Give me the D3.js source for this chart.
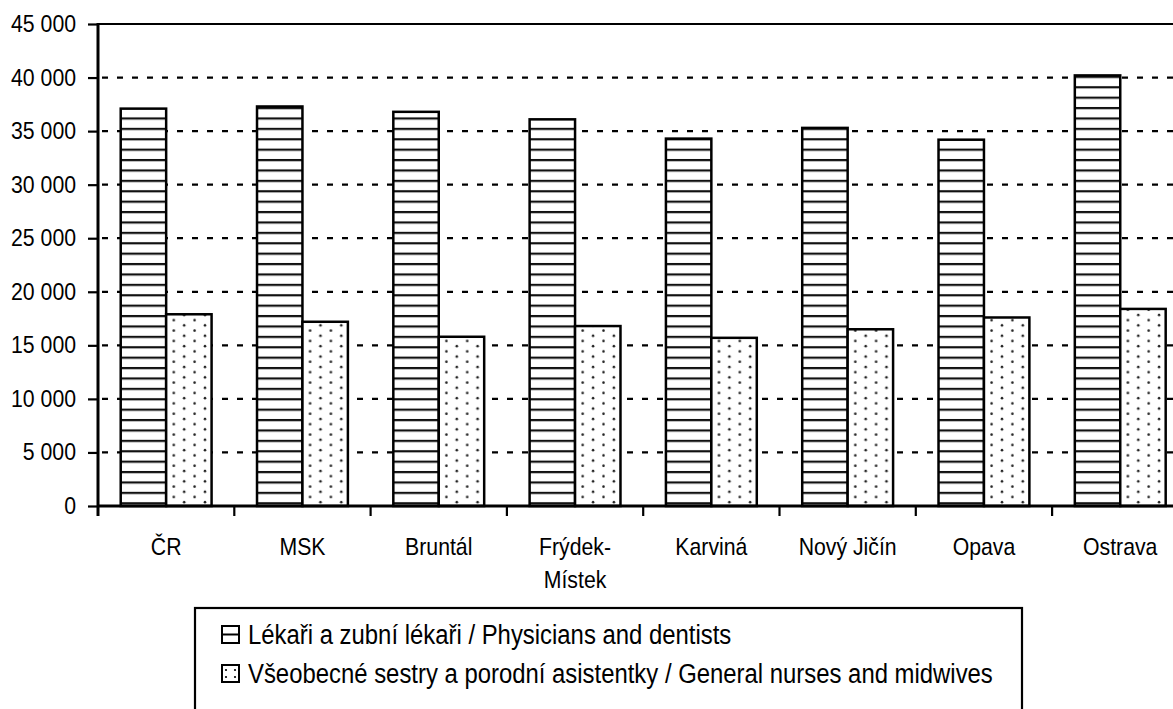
<!DOCTYPE html>
<html>
<head>
<meta charset="utf-8">
<script src="https://cdn.jsdelivr.net/npm/d3@7"></script>
<style>
    body { margin: 0; background: #fff; }
    svg { display: block; font-family: "Liberation Sans", Arial, sans-serif; }
</style>
</head>
<body>
<div id="chart"></div>
<script>
/*##############################
#       Data                   #
###############################*/
var categories = ["ČR", "MSK", "Bruntál", "Frýdek-\nMístek", "Karviná", "Nový Jičín", "Opava", "Ostrava"];
var physicians = [37100, 37300, 36800, 36100, 34300, 35300, 34200, 40200];
var nurses = [17900, 17200, 15800, 16800, 15700, 16500, 17600, 18400];
var seriesNames = ["Lékaři a zubní lékaři / Physicians and dentists",
                   "Všeobecné sestry a porodní asistentky / General nurses and midwives"];
var yTicks = [0, 5000, 10000, 15000, 20000, 25000, 30000, 35000, 40000, 45000];

var W = 1173, H = 709;
var plotLeft = 98, plotTop = 24, plotBottom = 506, step = 136.3;
var narrow = 0.885;   // squeeze Liberation Sans to look like Arial Narrow

var svg = d3.select("#chart").append("svg")
    .attr("width", W)
    .attr("height", H);

// patterns for the bars
var defs = svg.append("defs");
var stripes = defs.append("pattern")
    .attr("id", "stripes")
    .attr("patternUnits", "userSpaceOnUse")
    .attr("width", 10).attr("height", 10.4)
    .attr("y", plotBottom);
stripes.append("rect").attr("width", 10).attr("height", 10.4).attr("fill", "#fff");
stripes.append("rect").attr("y", 6.6).attr("width", 10).attr("height", 2.2).attr("fill", "#111");

var dots = defs.append("pattern")
    .attr("id", "dots")
    .attr("patternUnits", "userSpaceOnUse")
    .attr("width", 20.8).attr("height", 10.4);
dots.append("rect").attr("width", 20.8).attr("height", 10.4).attr("fill", "#fff");
dots.append("circle").attr("cx", 3).attr("cy", 3).attr("r", 1.3).attr("fill", "#222");
dots.append("circle").attr("cx", 13.4).attr("cy", 8.2).attr("r", 1.3).attr("fill", "#222");

/*##############################
#       Scales                 #
###############################*/
var x = d3.scaleBand()
    .domain(categories)
    .range([plotLeft, plotLeft + step * categories.length]);

var xInner = d3.scaleBand()
    .domain([0, 1])
    .range([0, x.bandwidth()])
    .paddingOuter(0.5);

var y = d3.scaleLinear()
    .domain([0, 45000])
    .range([plotBottom, plotTop]);

var loc = d3.formatLocale({decimal: ",", thousands: "\u00a0", grouping: [3], currency: ["", ""]});
var fmt = loc.format(",d");

// gridlines
svg.append("g")
    .selectAll("line")
    .data(yTicks.filter(function(d) { return d > 0 && d < 45000; }))
    .enter()
    .append("line")
    .attr("x1", plotLeft + 2).attr("x2", W)
    .attr("y1", function(d) { return y(d); })
    .attr("y2", function(d) { return y(d); })
    .attr("stroke", "#000")
    .attr("stroke-width", 2.2)
    .attr("stroke-dasharray", "6,9")
    .attr("stroke-dashoffset", -2);

// top border of plot area
svg.append("line")
    .attr("x1", plotLeft).attr("x2", W)
    .attr("y1", y(45000)).attr("y2", y(45000))
    .attr("stroke", "#000").attr("stroke-width", 2.2);

/*##############################
#       Bars                   #
###############################*/
var groups = svg.append("g")
    .selectAll("g")
    .data(categories)
    .enter()
    .append("g")
    .attr("transform", function(d) { return "translate(" + x(d) + ",0)"; });

groups.append("rect")
    .attr("x", xInner(0))
    .attr("width", xInner.bandwidth())
    .attr("y", function(d, i) { return y(physicians[i]); })
    .attr("height", function(d, i) { return plotBottom - y(physicians[i]); })
    .attr("fill", "url(#stripes)")
    .attr("stroke", "#000")
    .attr("stroke-width", 2.5);

groups.append("rect")
    .attr("x", xInner(1))
    .attr("width", xInner.bandwidth())
    .attr("y", function(d, i) { return y(nurses[i]); })
    .attr("height", function(d, i) { return plotBottom - y(nurses[i]); })
    .attr("fill", "url(#dots)")
    .attr("stroke", "#000")
    .attr("stroke-width", 2.5);

/*##############################
#       Axes                   #
###############################*/
var yAxis = svg.append("g")
    .attr("transform", "translate(" + plotLeft + ",0)")
    .call(d3.axisLeft(y).tickValues(yTicks).tickSize(10).tickFormat(""));
yAxis.select(".domain").remove();
yAxis.selectAll(".tick line").attr("stroke", "#000").attr("stroke-width", 2.2);

// y tick labels, right aligned and squeezed
svg.append("g")
    .selectAll("text")
    .data(yTicks)
    .enter()
    .append("text")
    .attr("transform", function(d) { return "translate(76," + (y(d) + 8) + ") scale(" + narrow + ",1)"; })
    .attr("text-anchor", "end")
    .attr("font-size", "24px")
    .attr("fill", "#000")
    .text(function(d) { return fmt(d); });

svg.append("line")
    .attr("x1", plotLeft).attr("x2", plotLeft)
    .attr("y1", plotTop - 1).attr("y2", plotBottom + 10)
    .attr("stroke", "#000").attr("stroke-width", 3);

svg.append("line")
    .attr("x1", plotLeft).attr("x2", W)
    .attr("y1", plotBottom).attr("y2", plotBottom)
    .attr("stroke", "#000").attr("stroke-width", 3);

// category separators
svg.append("g")
    .selectAll("line")
    .data(categories.slice(1))
    .enter()
    .append("line")
    .attr("x1", function(d) { return x(d); })
    .attr("x2", function(d) { return x(d); })
    .attr("y1", plotBottom).attr("y2", plotBottom + 10)
    .attr("stroke", "#000").attr("stroke-width", 2.2);

// category labels
var labels = svg.append("g")
    .selectAll("text")
    .data(categories)
    .enter()
    .append("text")
    .attr("text-anchor", "middle")
    .attr("font-size", "24px")
    .attr("fill", "#000")
    .attr("transform", function(d) {
        return "translate(" + (x(d) + x.bandwidth() / 2) + ",555) scale(" + narrow + ",1)";
    });

labels.selectAll("tspan")
    .data(function(d) { return d.split("\n"); })
    .enter()
    .append("tspan")
    .attr("x", 0)
    .attr("dy", function(d, i) { return i == 0 ? 0 : 33; })
    .text(function(d) { return d; });

/*##############################
#       Legend                 #
###############################*/
var legend = svg.append("g");
legend.append("rect")
    .attr("x", 195).attr("y", 608)
    .attr("width", 827).attr("height", 140)
    .attr("fill", "#fff")
    .attr("stroke", "#000").attr("stroke-width", 2.2);

var items = legend.selectAll("g.item")
    .data(seriesNames)
    .enter()
    .append("g")
    .attr("class", "item")
    .attr("transform", function(d, i) { return "translate(222," + (626 + i * 39) + ")"; });

items.append("rect")
    .attr("width", 17).attr("height", 17)
    .attr("fill", "#fff")
    .attr("stroke", "#000").attr("stroke-width", 2);

// marker inner detail
items.filter(function(d, i) { return i == 0; })
    .append("line")
    .attr("x1", 0).attr("x2", 17).attr("y1", 8.5).attr("y2", 8.5)
    .attr("stroke", "#000").attr("stroke-width", 2);

items.filter(function(d, i) { return i == 1; })
    .selectAll("circle")
    .data([[4, 5], [13, 5], [4, 12], [13, 12]])
    .enter()
    .append("circle")
    .attr("cx", function(d) { return d[0]; })
    .attr("cy", function(d) { return d[1]; })
    .attr("r", 1.1)
    .attr("fill", "#000");

items.append("text")
    .attr("transform", "translate(26,17.5) scale(" + narrow + ",1)")
    .attr("font-size", "27px")
    .attr("fill", "#000")
    .text(function(d) { return d; });
</script>
</body>
</html>
